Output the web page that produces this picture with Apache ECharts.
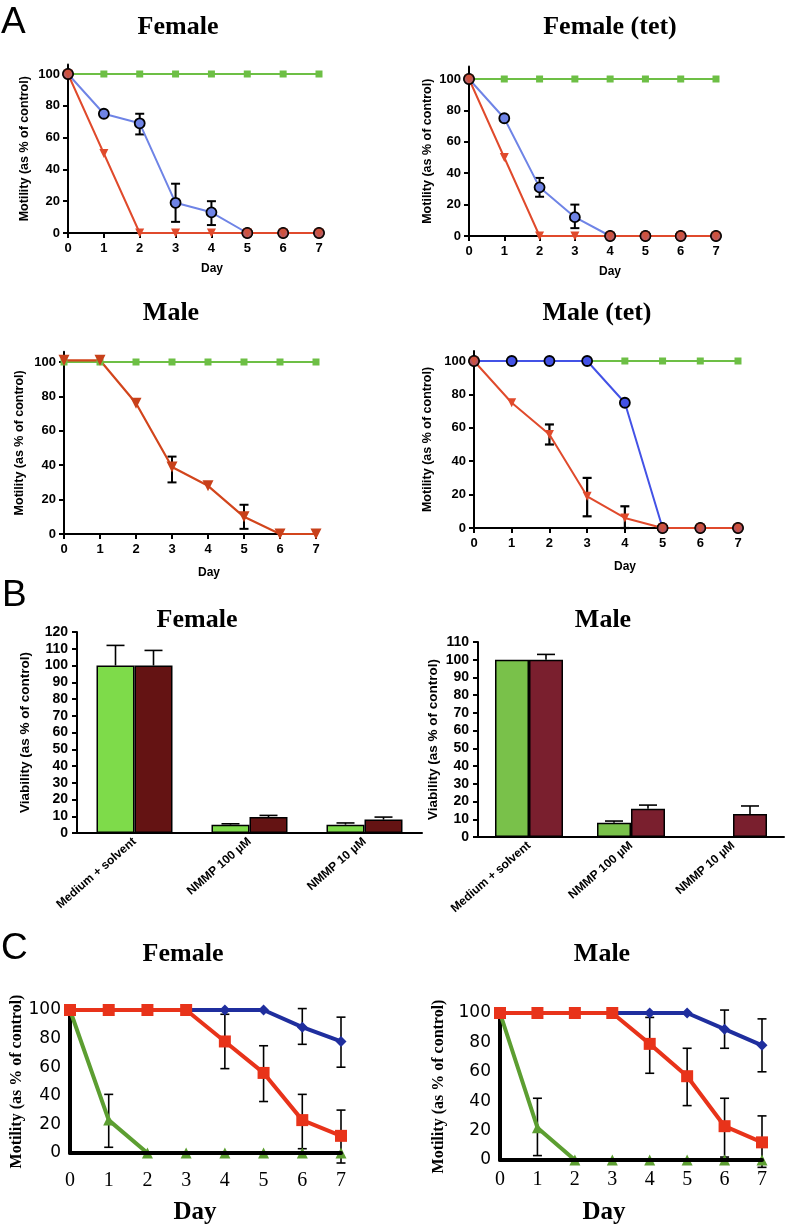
<!DOCTYPE html>
<html><head><meta charset="utf-8">
<script src="https://cdn.jsdelivr.net/npm/echarts@6/dist/echarts.min.js"></script>
<style>html,body{margin:0;padding:0;background:#fff}#c{width:789px;height:1227px}</style>
</head><body><div id="c"></div>
<script>
// ---------- DATA ----------
const days = [0,1,2,3,4,5,6,7];
const yTicksA = [0,20,40,60,80,100];

// A – Female
const aFemCtrl   = [100,100,100,100,100,100,100,100];
const aFemBlue   = [100,75,69,19,13,0,0,0];
const aFemBlueLo = [null,null,62,7,5,null,null,null];
const aFemBlueHi = [null,null,75,31,20,null,null,null];
const aFemRed    = [100,50,0,0,0,0,0,0];
const aFemDot    = [100,null,null,null,null,0,0,0];
// A – Female (tet)
const aFemTetCtrl   = [100,100,100,100,100,100,100,100];
const aFemTetBlue   = [100,75,31,12,0,0,0,0];
const aFemTetBlueLo = [null,null,25,5,null,null,null,null];
const aFemTetBlueHi = [null,null,37,20,null,null,null,null];
const aFemTetRed    = [100,50,0,0,0,0,0,0];
const aFemTetDot    = [100,null,null,null,0,0,0,0];
// A – Male
const aMaleCtrl  = [100,100,100,100,100,100,100,100];
const aMaleRed   = [101,101,76,39,28,10,0,0];
const aMaleRedLo = [null,null,null,30,null,3,null,null];
const aMaleRedHi = [null,null,null,45,null,17,null,null];
// A – Male (tet)
const aMaleTetCtrl  = [100,100,100,100,100,100,100,100];
const aMaleTetBlue  = [100,100,100,100,75,0,0,0];
const aMaleTetRed   = [100,75,56,19,6,0,0,0];
const aMaleTetRedLo = [null,null,50,7,0,null,null,null];
const aMaleTetRedHi = [null,null,62,30,13,null,null,null];
const aMaleTetDot   = [100,null,null,null,null,0,0,0];

// B – viability
const bCats = ['Medium + solvent','NMMP 100 µM','NMMP 10 µM'];
const bFemGreen    = [100,5,5];
const bFemGreenErr = [12,0.5,1];
const bFemBrown    = [100,9.5,8];
const bFemBrownErr = [9,1,1.5];
const bMaleGreen    = [100,8,null];
const bMaleGreenErr = [null,1,null];
const bMaleBrown    = [100,16,13];
const bMaleBrownErr = [3,2,4.5];

// C – Female
const cFemBlue   = [100,100,100,100,100,100,88,78];
const cFemBlueLo = [null,null,null,null,null,null,76,60];
const cFemBlueHi = [null,null,null,null,null,null,101,95];
const cFemRed    = [100,100,100,100,78,56,23,12];
const cFemRedLo  = [null,null,null,null,59,36,3,-7];
const cFemRedHi  = [null,null,null,null,97,75,41,30];
const cFemGreen  = [100,23,0,0,0,0,0,0];
const cFemGreenLo= [null,4,null,null,null,null,null,null];
const cFemGreenHi= [null,41,null,null,null,null,null,null];
// C – Male
const cMaleBlue   = [100,100,100,100,100,100,89,78];
const cMaleBlueLo = [null,null,null,null,null,null,76,60];
const cMaleBlueHi = [null,null,null,null,null,null,102,96];
const cMaleRed    = [100,100,100,100,79,57,23,12];
const cMaleRedLo  = [null,null,null,null,59,37,2,-5];
const cMaleRedHi  = [null,null,null,null,97,76,42,30];
const cMaleGreen  = [100,22,0,0,0,0,0,0];
const cMaleGreenLo= [null,3,null,null,null,null,null,null];
const cMaleGreenHi= [null,42,null,null,null,null,null,null];

// ---------- HELPERS ----------
const SANS = '"Liberation Sans", Arial, sans-serif';
const SERIF = '"Liberation Serif", "Times New Roman", serif';
const grids = [], xAxes = [], yAxes = [], series = [];

function pts(vals){ const r=[]; days.forEach((d,i)=>{ if(vals[i]!=null) r.push([d,vals[i]]); }); return r; }
function line(gi, vals, o){ return Object.assign({type:'line', xAxisIndex:gi, yAxisIndex:gi, data:pts(vals), animation:false, silent:true}, o); }
function errSeries(gi, xs, lo, hi, opt){
  const data=[];
  xs.forEach((x,i)=>{ if(lo[i]!=null && hi[i]!=null) data.push([x,lo[i],hi[i]]); });
  return {type:'custom', xAxisIndex:gi, yAxisIndex:gi, data, z:opt.z||3, silent:true, clip:false, animation:false,
    encode:{x:0,y:[1,2]},
    renderItem(params, api){
      const x=api.value(0);
      const a=api.coord([x,api.value(1)]), b=api.coord([x,api.value(2)]);
      const cx=a[0]+(opt.dx||0), w=opt.cap;
      const st={stroke:'#000', lineWidth:opt.lw};
      const ch=[{type:'line',shape:{x1:cx,y1:a[1],x2:cx,y2:b[1]},style:st},
                {type:'line',shape:{x1:cx-w,y1:b[1],x2:cx+w,y2:b[1]},style:st}];
      if(opt.lowCap!==false) ch.push({type:'line',shape:{x1:cx-w,y1:a[1],x2:cx+w,y2:a[1]},style:st});
      return {type:'group',children:ch};
    }};
}

// Panel A grid
function panelA(x0,x7,y0,y100,ymax,nameGap){
  const gi=grids.length, ppu=(y0-y100)/100;
  grids.push({left:x0, width:x7-x0, top:y0-ymax*ppu, height:ymax*ppu, outerBoundsMode:'none', containLabel:false});
  xAxes.push({type:'value', gridIndex:gi, min:0, max:7, interval:1,
    axisLine:{show:true, onZero:false, lineStyle:{color:'#000', width:2}},
    axisTick:{show:true, length:5, lineStyle:{color:'#000', width:2}},
    axisLabel:{color:'#000', fontFamily:SANS, fontWeight:'bold', fontSize:13, margin:9},
    splitLine:{show:false}});
  yAxes.push({type:'value', gridIndex:gi, min:0, max:ymax,
    axisLine:{show:true, onZero:false, lineStyle:{color:'#000', width:2}},
    axisTick:{show:true, length:5, customValues:yTicksA, lineStyle:{color:'#000', width:2}},
    axisLabel:{color:'#000', fontFamily:SANS, fontWeight:'bold', fontSize:13, margin:8, customValues:yTicksA},
    splitLine:{show:false},
    name:'Motility (as % of control)', nameLocation:'middle', nameGap:nameGap,
    nameTextStyle:{color:'#000', fontFamily:SANS, fontWeight:'bold', fontSize:12.5}});
  return gi;
}
// Panel B grid
function panelB(left,width,y0,ytop,ymax,nameGap){
  const gi=grids.length;
  grids.push({left:left, width:width, top:ytop, height:y0-ytop, outerBoundsMode:'none', containLabel:false});
  xAxes.push({type:'category', gridIndex:gi, data:bCats,
    axisLine:{show:true, lineStyle:{color:'#000', width:2}},
    axisTick:{show:false},
    axisLabel:{color:'#000', fontFamily:SANS, fontWeight:'bold', fontSize:12, rotate:41, margin:7, interval:0}});
  yAxes.push({type:'value', gridIndex:gi, min:0, max:ymax, interval:10,
    axisLine:{show:true, lineStyle:{color:'#000', width:2}},
    axisTick:{show:true, length:5, lineStyle:{color:'#000', width:2}},
    axisLabel:{color:'#000', fontFamily:SANS, fontWeight:'bold', fontSize:14, margin:9},
    splitLine:{show:false},
    name:'Viability (as % of control)', nameLocation:'middle', nameGap:nameGap,
    nameTextStyle:{color:'#000', fontFamily:SANS, fontWeight:'bold', fontSize:13.5}});
  return gi;
}
// Panel C grid
function panelC(x0,x7,y0,y100,nameGap,labMargin){
  const gi=grids.length;
  grids.push({left:x0, width:x7-x0, top:y100, height:y0-y100, outerBoundsMode:'none', containLabel:false});
  xAxes.push({type:'value', gridIndex:gi, min:0, max:7, interval:1, z:5,
    axisLine:{show:true, onZero:false, lineStyle:{color:'#000', width:4}},
    axisTick:{show:false},
    axisLabel:{color:'#000', fontFamily:SERIF, fontSize:20, margin:labMargin},
    splitLine:{show:false}});
  yAxes.push({type:'value', gridIndex:gi, min:0, max:100, interval:20,
    axisLine:{show:true, onZero:false, lineStyle:{color:'#000', width:4}},
    axisTick:{show:false},
    axisLabel:{color:'#000', fontFamily:'"DejaVu Sans", sans-serif', fontSize:17, margin:9},
    splitLine:{show:false},
    name:'Motility (as % of control)', nameLocation:'middle', nameGap:nameGap,
    nameTextStyle:{color:'#000', fontFamily:SERIF, fontWeight:'bold', fontSize:16}});
  return gi;
}

// ---------- PANEL A ----------
const gA = '#6dbf45', bA='#6f84e6', rA='#e04a2c', dotA='#c95443';
function aSeries(gi, ctrl, blue, red, dot, blueColor){
  if(ctrl) series.push(line(gi, ctrl, {symbol:'rect', symbolSize:7, lineStyle:{color:gA,width:2}, itemStyle:{color:gA}}));
  if(blue) series.push(line(gi, blue, {symbol:'circle', symbolSize:10, lineStyle:{color:blueColor,width:2}, itemStyle:{color:blueColor, borderColor:'#000', borderWidth:1.8}}));
  if(red) series.push(line(gi, red, {symbol:'triangle', symbolRotate:180, symbolSize:9, lineStyle:{color:rA,width:2}, itemStyle:{color:rA}}));
  if(dot) series.push({type:'scatter', xAxisIndex:gi, yAxisIndex:gi, data:pts(dot), symbol:'circle', symbolSize:10, z:4, silent:true, animation:false,
    itemStyle:{color:dotA, borderColor:'#000', borderWidth:1.5}});
}
const a1 = panelA(68,319,233,74,106,37);
aSeries(a1, aFemCtrl, aFemBlue, aFemRed, aFemDot, bA);
series.push(errSeries(a1, days, aFemBlueLo, aFemBlueHi, {cap:4.5, lw:2}));
const a2 = panelA(469,716,236,79,108,35);
aSeries(a2, aFemTetCtrl, aFemTetBlue, aFemTetRed, aFemTetDot, bA);
series.push(errSeries(a2, days, aFemTetBlueLo, aFemTetBlueHi, {cap:4.5, lw:2}));
const a3 = panelA(64,316,534,362,106,38);
aSeries(a3, aMaleCtrl, null, null, null, bA);
series.push(line(a3, aMaleRed, {symbol:'triangle', symbolRotate:180, symbolSize:11, lineStyle:{color:'#d2451c',width:2.2}, itemStyle:{color:'#c8401a'}}));
series.push(errSeries(a3, days, aMaleRedLo, aMaleRedHi, {cap:4.5, lw:2}));
const a4 = panelA(474,738,528,361,106,40);
aSeries(a4, aMaleTetCtrl, aMaleTetBlue, aMaleTetRed, aMaleTetDot, '#4352e6');
series.push(errSeries(a4, days, aMaleTetRedLo, aMaleTetRedHi, {cap:4.5, lw:2.2}));

// ---------- PANEL B ----------
function bSeries(gi, green, greenErr, brown, brownErr, gCol, bCol, bw){
  const item = c => ({color:c, borderColor:'#000', borderWidth:1.5});
  series.push({type:'bar', xAxisIndex:gi, yAxisIndex:gi, data:green, barWidth:bw, barGap:'0%', itemStyle:item(gCol), silent:true, animation:false});
  series.push({type:'bar', xAxisIndex:gi, yAxisIndex:gi, data:brown, barWidth:bw, barGap:'0%', itemStyle:item(bCol), silent:true, animation:false});
  const idx=[0,1,2];
  const gLo=green.map((v,i)=>greenErr[i]==null?null:v), gHi=green.map((v,i)=>(v==null||greenErr[i]==null)?null:v+greenErr[i]);
  const rLo=brown.map((v,i)=>brownErr[i]==null?null:v), rHi=brown.map((v,i)=>(v==null||brownErr[i]==null)?null:v+brownErr[i]);
  series.push(errSeries(gi, idx, gLo, gHi, {cap:9, lw:1.6, dx:-bw/2, lowCap:false, z:1}));
  series.push(errSeries(gi, idx, rLo, rHi, {cap:9, lw:1.6, dx:bw/2, lowCap:false, z:1}));
}
const b1 = panelB(77,345,833,632,120,45);
bSeries(b1, bFemGreen, bFemGreenErr, bFemBrown, bFemBrownErr, '#7edb4a', '#641313', 38);
const b2 = panelB(478,306,837,642,110,38);
bSeries(b2, bMaleGreen, bMaleGreenErr, bMaleBrown, bMaleBrownErr, '#79c14a', '#7a1f2e', 34);

// ---------- PANEL C ----------
const cB='#1f2e9e', cR='#e8331a', cG='#5c9e31';
function cSeries(gi, blue, bLo, bHi, red, rLo, rHi, green, gLo, gHi){
  series.push(line(gi, blue, {symbol:'diamond', symbolSize:11, lineStyle:{color:cB,width:4}, itemStyle:{color:cB}}));
  series.push(line(gi, green, {symbol:'triangle', symbolSize:11, lineStyle:{color:cG,width:4}, itemStyle:{color:cG}}));
  series.push(line(gi, red, {symbol:'rect', symbolSize:12, lineStyle:{color:cR,width:4}, itemStyle:{color:cR}}));
  series.push(errSeries(gi, days, bLo, bHi, {cap:4.5, lw:1.6}));
  series.push(errSeries(gi, days, rLo, rHi, {cap:4.5, lw:1.6}));
  series.push(errSeries(gi, days, gLo, gHi, {cap:4.5, lw:1.6}));
}
const c1 = panelC(70,341,1153,1010,44,18);
cSeries(c1, cFemBlue, cFemBlueLo, cFemBlueHi, cFemRed, cFemRedLo, cFemRedHi, cFemGreen, cFemGreenLo, cFemGreenHi);
const c2 = panelC(500,762,1160,1013,53,10);
cSeries(c2, cMaleBlue, cMaleBlueLo, cMaleBlueHi, cMaleRed, cMaleRedLo, cMaleRedHi, cMaleGreen, cMaleGreenLo, cMaleGreenHi);

// ---------- TEXTS ----------
function txt(text, x, y, font, align){
  return {type:'text', x:x, y:y, silent:true, style:{text:text, font:font, fill:'#000', textAlign:align||'center', textVerticalAlign:'middle'}};
}
const TF = 'bold 26px ' + SERIF;
const LF = '37px ' + SANS;
const DF = 'bold 12px ' + SANS;
const graphic = [
  txt('A', 1, 23, LF, 'left'), txt('B', 2, 596, LF, 'left'), txt('C', 1, 949, LF, 'left'),
  txt('Female', 178, 27, TF), txt('Female (tet)', 610, 27, TF),
  txt('Male', 171, 313, TF), txt('Male (tet)', 597, 313, TF),
  txt('Female', 197, 620, TF), txt('Male', 603, 620, TF),
  txt('Female', 183, 954, TF), txt('Male', 602, 954, TF),
  txt('Day', 212, 269, DF), txt('Day', 610, 272, DF), txt('Day', 209, 573, DF), txt('Day', 625, 567, DF),
  txt('Day', 195, 1213, 'bold 25px ' + SERIF), txt('Day', 604, 1213, 'bold 25px ' + SERIF)
];

const chart = echarts.init(document.getElementById('c'), null, {renderer:'canvas'});
chart.setOption({backgroundColor:'#fff', animation:false, grid:grids, xAxis:xAxes, yAxis:yAxes, series:series, graphic:graphic});
</script></body></html>
